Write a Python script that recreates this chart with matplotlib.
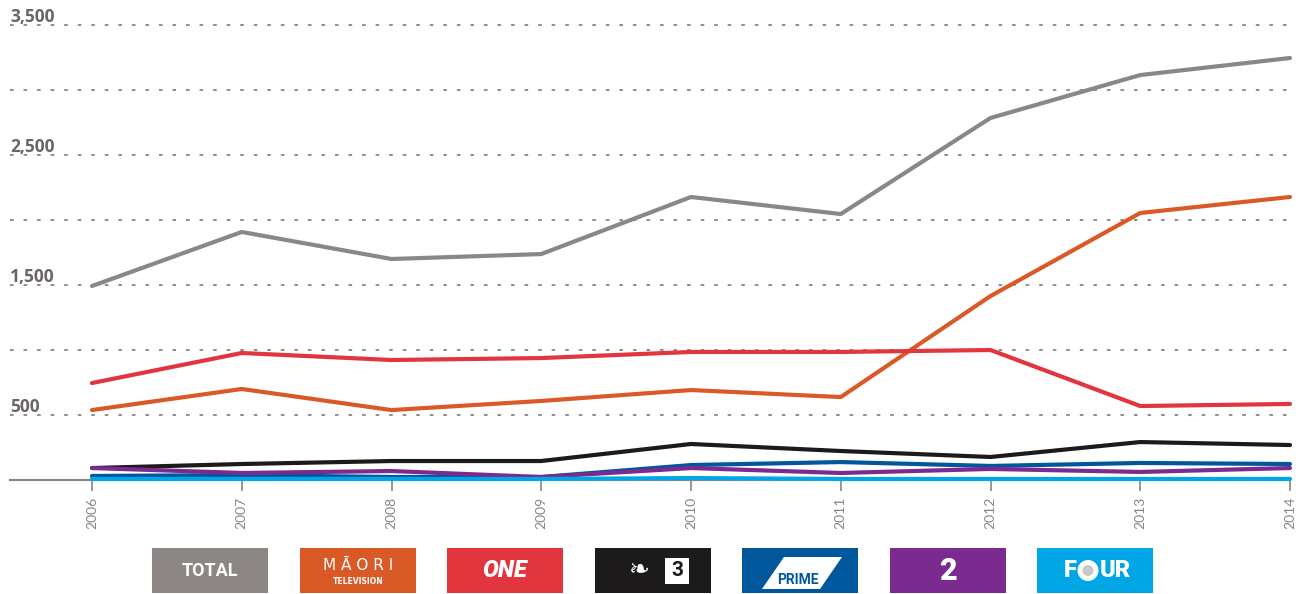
import matplotlib
matplotlib.use("Agg")
import matplotlib.pyplot as plt
from matplotlib.patches import Rectangle, Polygon, Ellipse

years = [2006, 2007, 2008, 2009, 2010, 2011, 2012, 2013, 2014]
total = [1492, 1908, 1700, 1738, 2177, 2046, 2785, 3115, 3246]
maori = [538, 700, 538, 608, 692, 638, 1415, 2054, 2177]
one = [746, 977, 923, 938, 985, 985, 1000, 569, 585]
tv3 = [92, 123, 146, 146, 277, 223, 177, 292, 269]
prime = [31, 38, 23, 23, 115, 138, 108, 131, 123]
tv2 = [92, 54, 69, 23, 92, 54, 85, 62, 92]
four = [8, 8, 8, 8, 15, 8, 8, 8, 8]

series_names = ["TOTAL", "MĀORI", "ONE", "TV3", "PRIME", "2", "FOUR"]
series_values = [total, maori, one, tv3, prime, tv2, four]
colors = ["#8c8785", "#da5a27", "#e2363f", "#1c1a1b", "#00579c", "#7b2a8f", "#00a6e5"]

grid_levels = [500, 1000, 1500, 2000, 2500, 3000, 3500]
label_levels = [500, 1500, 2500, 3500]

W, H = 1306, 594
fig = plt.figure(figsize=(W / 100, H / 100), dpi=100)
left_px, right_px, top_px, bot_px = 10, 1296, 25, 480
ax = fig.add_axes([left_px / W, (H - bot_px) / H, (right_px - left_px) / W, (bot_px - top_px) / H])
ppy = (1290 - 92) / 8.0
x0 = 2006 - (92 - left_px) / ppy
x1 = 2014 + (right_px - 1290) / ppy
ax.set_xlim(x0, x1)
ax.set_ylim(0, 3500)
for s in ax.spines.values():
    s.set_visible(False)
ax.set_yticks([])

for g in grid_levels:
    ax.plot([x0, 2014], [g, g], color="#8a8584", lw=1.3, ls=(0, (2.0, 5.5)), zorder=1,
            solid_capstyle="butt", clip_on=False)
for g in label_levels:
    ax.text(x0, g + 22, f"{g:,}", ha="left", va="baseline", fontsize=12.5, fontweight="bold",
            color="#6b6563", family="Open Sans")
ax.plot([x0, 2014], [0, 0], color="#8a8584", lw=1.5, zorder=2, clip_on=False)

for vals, c in zip(series_values, colors):
    ax.plot(years, vals, color=c, lw=3, zorder=3, solid_capstyle="round",
            solid_joinstyle="round", clip_on=False)

ax.set_xticks(years)
ax.set_xticklabels([str(y) for y in years], rotation=90, fontsize=10, color="#8a8584",
                   family="Lato", va="top")
ax.tick_params(axis="x", length=8, width=1.2, color="#8a8584", pad=4)

# legend boxes
box_lefts = [152, 300, 447, 595, 742, 890, 1037]
bw, bh, btop = 116, 45, 548
for name, c, bx in zip(series_names, colors, box_lefts):
    fx, fy = bx / W, (H - btop - bh) / H
    fw, fh = bw / W, bh / H
    fig.patches.append(Rectangle((fx, fy), fw, fh, transform=fig.transFigure,
                                 facecolor=c, edgecolor="none"))
    cx, cy = fx + fw / 2, fy + fh / 2
    if name == "TOTAL":
        fig.text(cx, cy, "TOTAL", ha="center", va="center", color="white",
                 fontsize=13, fontweight="bold", family="Roboto")
    elif name == "MĀORI":
        fig.text(cx, cy + 5 / H, "M Ā O R I", ha="center", va="center", color="white",
                 fontsize=11, family="DejaVu Sans")
        fig.text(cx, cy - 11 / H, "TELEVISION", ha="center", va="center", color="white",
                 fontsize=5.5, fontweight="bold", family="DejaVu Sans")
    elif name == "ONE":
        fig.text(cx, cy, "ONE", ha="center", va="center", color="white",
                 fontsize=17, fontweight="heavy", style="italic", family="Roboto")
    elif name == "TV3":
        fig.text(cx - 14 / W, cy, "\u2767", ha="center", va="center", color="white",
                 fontsize=18, family="DejaVu Sans")
        fig.patches.append(Rectangle((cx + 12 / W, cy - 13 / H), 24 / W, 26 / H,
                                     transform=fig.transFigure, facecolor="white",
                                     edgecolor="none"))
        fig.text(cx + 24 / W, cy, "3", ha="center", va="center", color=c,
                 fontsize=15, fontweight="bold", family="Roboto")
    elif name == "PRIME":
        pts = [(bx + 42, btop + 9), (bx + 100, btop + 9), (bx + 78, btop + 41), (bx + 20, btop + 41)]
        fig.patches.append(Polygon([(p[0] / W, (H - p[1]) / H) for p in pts],
                                   transform=fig.transFigure, facecolor="white",
                                   edgecolor="none"))
        fig.text(cx - 2 / W, (H - btop - 32) / H, "PRIME", ha="center", va="center",
                 color=c, fontsize=10, fontweight="bold", family="Roboto")
    elif name == "2":
        fig.text(cx, cy, "2", ha="center", va="center", color="white",
                 fontsize=22, fontweight="heavy", family="Roboto")
    elif name == "FOUR":
        fig.text((bx + 27) / W, cy, "F", ha="left", va="center", color="white",
                 fontsize=17, fontweight="heavy", family="Roboto")
        ocx = (bx + 51) / W
        fig.patches.append(Ellipse((ocx, cy), 21 / W, 21 / H, transform=fig.transFigure,
                                   facecolor="white", edgecolor="none"))
        fig.patches.append(Ellipse((ocx, cy), 11 / W, 11 / H, transform=fig.transFigure,
                                   facecolor="#c8c8c8", edgecolor="none"))
        fig.text((bx + 63) / W, cy, "UR", ha="left", va="center", color="white",
                 fontsize=17, fontweight="heavy", family="Roboto")

fig.savefig("out.png", dpi=100)
